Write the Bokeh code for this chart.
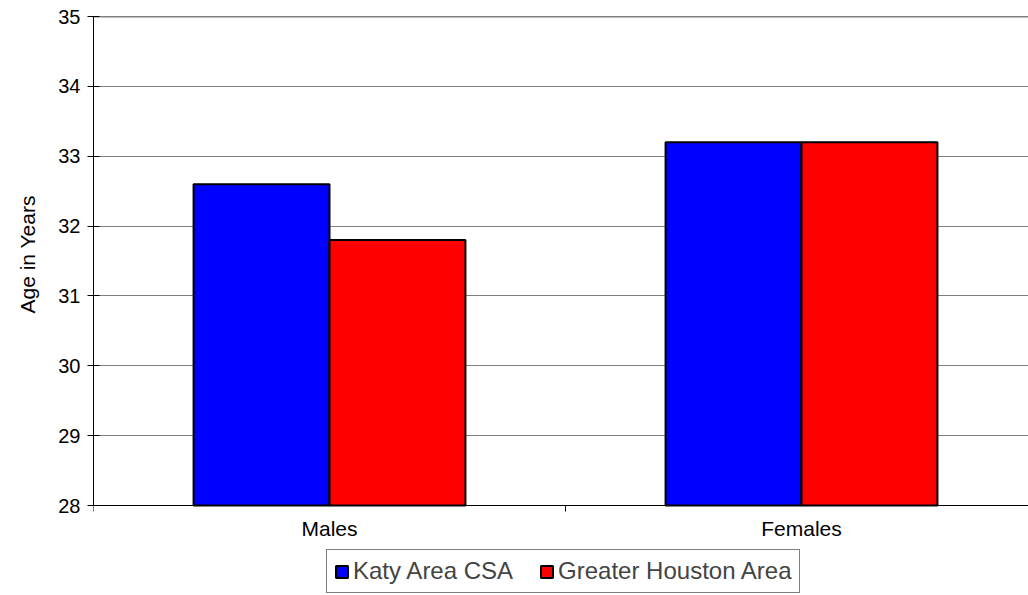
import numpy as np
from bokeh.plotting import figure
from bokeh.models import (ColumnDataSource, Range1d, FixedTicker, Span, Legend, LegendItem, Title)
from bokeh.embed import file_html
from bokeh.resources import INLINE

categories = ["Males", "Females"]
series_names = ["Katy Area CSA", "Greater Houston Area"]
katy = [32.6, 33.2]
houston = [31.8, 33.2]
y_ticks = [28, 29, 30, 31, 32, 33, 34, 35]
y_title = "Age in Years"
colors = ["#0000FF", "#FF0000"]

FONT = "Liberation Sans"
BAR_W = 0.288
W, H = 1028, 595
LEFT, TOP = 93, 16
AXIS_Y_PX = 505          # pixel row of the category axis
UNIT_PX = 472.0          # pixels per category
PX_PER_YEAR = (AXIS_Y_PX - TOP) / (y_ticks[-1] - y_ticks[0])
y_start = y_ticks[0] - (H - AXIS_Y_PX) / PX_PER_YEAR

centers = np.arange(len(categories)) + 0.5
src_k = ColumnDataSource(dict(x=centers - BAR_W / 2, top=katy))
src_h = ColumnDataSource(dict(x=centers + BAR_W / 2, top=houston))

p = figure(width=W, height=H, output_backend="svg", toolbar_location=None,
           x_range=Range1d(0, (W - LEFT) / UNIT_PX),
           y_range=Range1d(y_start, y_ticks[-1]),
           min_border_left=LEFT, min_border_top=TOP, min_border_right=0, min_border_bottom=0)
p.outline_line_color = None
p.background_fill_color = "white"
p.border_fill_color = "white"

r1 = p.vbar(x="x", top="top", bottom=y_ticks[0], width=BAR_W, source=src_k,
            fill_color=colors[0], line_color="black", line_width=2)
r2 = p.vbar(x="x", top="top", bottom=y_ticks[0], width=BAR_W, source=src_h,
            fill_color=colors[1], line_color="black", line_width=2)

# y axis
p.yaxis.ticker = FixedTicker(ticks=y_ticks)
p.yaxis.bounds = (y_ticks[0], y_ticks[-1])
p.yaxis.minor_tick_line_color = None
p.yaxis.major_tick_in = 6
p.yaxis.major_tick_out = 6
p.yaxis.major_tick_line_color = "black"
p.yaxis.axis_line_color = "black"
p.yaxis.major_label_text_font = FONT
p.yaxis.major_label_text_font_size = "20px"
p.yaxis.major_label_text_color = "black"
p.yaxis.major_label_standoff = 7

# y-axis title, placed beside the 28..35 part of the axis
p.add_layout(Title(text=y_title, align="left", offset=H - 313, vertical_align="top",
                   text_font=FONT, text_font_size="21px", text_font_style="normal",
                   text_color="black", standoff=30), "left")

# x axis drawn at y = 28: labels at category centres, ticks at boundaries
p.xaxis.fixed_location = y_ticks[0]
p.xaxis.ticker = FixedTicker(ticks=list(centers), minor_ticks=list(range(len(categories) + 1)))
p.xaxis.major_label_overrides = {float(c): n for c, n in zip(centers, categories)}
p.xaxis.major_tick_in = 0
p.xaxis.major_tick_out = 0
p.xaxis.minor_tick_in = 0
p.xaxis.minor_tick_out = 6
p.xaxis.minor_tick_line_color = "black"
p.xaxis.axis_line_color = "black"
p.xaxis.major_label_text_font = FONT
p.xaxis.major_label_text_font_size = "21px"
p.xaxis.major_label_text_color = "black"
p.xaxis.major_label_standoff = 5

p.xgrid.grid_line_color = None
p.ygrid.ticker = FixedTicker(ticks=y_ticks)
p.ygrid.grid_line_color = "#808080"
p.ygrid.grid_line_width = 1

p.add_layout(Span(location=y_ticks[-1], dimension="width", line_color="black", line_width=1.5))

legend = Legend(items=[LegendItem(label=series_names[0], renderers=[r1]),
                       LegendItem(label=series_names[1], renderers=[r2])],
                orientation="horizontal", location=(233, 2),
                border_line_color="black", border_line_width=1,
                label_text_font=FONT, label_text_font_size="24px",
                glyph_width=15, glyph_height=15, label_standoff=4, spacing=26,
                padding=7, margin=0, background_fill_alpha=1)
p.add_layout(legend, "center")

open("out.html", "w").write(file_html(p, INLINE))
